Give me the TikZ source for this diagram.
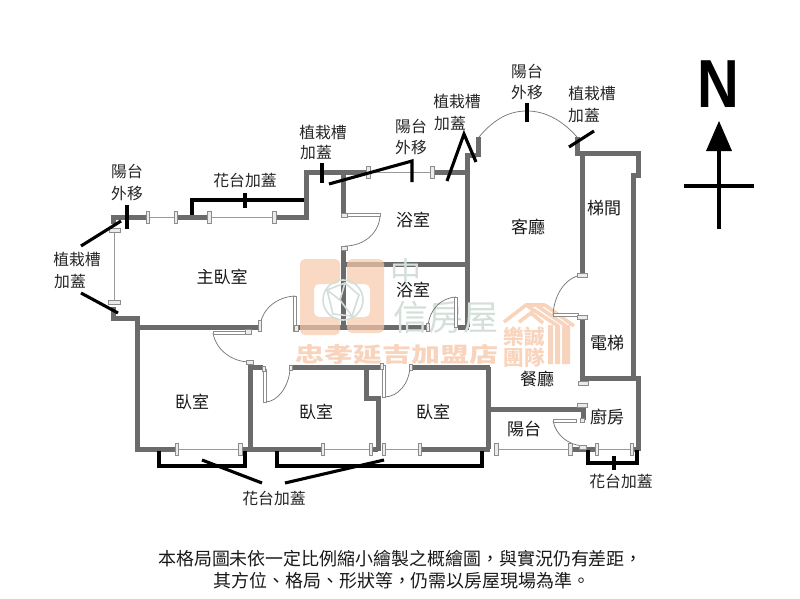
\documentclass[tikz,border=0pt]{standalone}
\usepackage{fontspec}
\setmainfont{Noto Sans CJK TC}
\newfontfamily\latinfont{Liberation Sans}
\definecolor{wallc}{HTML}{6B6B6B}
\definecolor{wmo}{HTML}{F7C9AC}
\definecolor{wmg}{HTML}{D3DFD8}
\tikzset{
 x=1pt,y=-1pt,
 wall/.style={draw=wallc,line width=5pt,line join=miter,line cap=butt},
 blk/.style={draw=black,line width=3.1pt,line cap=butt,line join=miter},
 thinline/.style={draw=black!55,line width=0.7pt},
 windowl/.style={draw=black!40,line width=1pt},
 leaf/.style={draw=black!45,fill=white,line width=0.6pt},
 jamb/.style={draw=black!45,fill=black!8,line width=0.6pt},
 lab/.style={font=\fontsize{15.8pt}{15.8pt}\selectfont,inner sep=0pt,text=black!85},
 room/.style={font=\fontsize{17pt}{17pt}\selectfont,inner sep=0pt,text=black!90},
 captext/.style={font=\fontsize{17.95pt}{17.95pt}\selectfont,inner sep=0pt,text=black!90},
 wmb/.style={fill=wmo,opacity=.7,draw=none},
}
\newcommand{\vj}[2]{\path[jamb] (#1-1.6,#2-6) rectangle (#1+1.6,#2+6);}
\newcommand{\hj}[2]{\path[jamb] (#1-5,#2-2) rectangle (#1+5,#2+2);}
\begin{document}
\begin{tikzpicture}
\useasboundingbox (0,0) rectangle (800,599);
\fill[white] (0,0) rectangle (800,599);
% windows
\path[windowl] (148,217)--(176,217) (209,217)--(273,217) (368,172.5)--(432,172.5)
 (114,230)--(114,302) (177,449)--(240,449) (323,449)--(371,449) (385,449)--(420,449)
 (496,449)--(570,449) (597,449)--(632,449);
% walls
\path[wall] (113,224)--(113,217)--(148,217);
\path[wall] (177,217)--(207,217);
\path[wall] (273,217)--(306,217)--(306,172.5)--(368,172.5);
\path[wall] (432,172.5)--(467,172.5);
\path[wall] (343,172.5)--(343,215);
\path[wall] (467,155)--(467,327);
\path[wall] (465,155)--(476,155)--(476,157);
\path[wall] (478,137)--(478,157);
\path[wall] (577,137)--(577,153.5)--(638.5,153.5)--(638.5,175)--(633,175)--(633,378);
\path[wall] (582,153)--(582,273);
\path[wall] (582,318)--(582,378)--(638,378)--(638,451);
\path[wall] (343,247)--(343,327);
\path[wall] (343,264)--(467,264);
\path[wall] (113,307)--(113,318)--(137,318)--(137,451);
\path[wall] (135,327)--(258,327);
\path[wall] (297,327)--(427,327);
\path[wall] (458,327)--(469,327);
\path[wall] (135,449)--(177,449);
\path[wall] (240,449)--(323,449);
\path[wall] (250,363)--(250,449);
\path[wall] (250,367)--(263,367);
\path[wall] (290,367)--(380,367);
\path[wall] (366,367)--(366,398)--(378,398)--(378,451);
\path[wall] (371,449)--(378,449);
\path[wall] (410,367)--(490,367);
\path[wall] (488,367)--(488,449);
\path[wall] (420,449)--(490,449);
\path[wall] (488,409)--(583,409)--(583,420);
\path[wall] (570,449)--(597,449);
\path[wall] (632,449)--(638,449);
% watermark
\fill[wmb,rounded corners=5pt] (300,259)--(340,259)--(340,284)--(314,284)--(314,317)--(340,317)--(340,335)--(300,335)--cycle;
\fill[wmb,rounded corners=5pt] (347,259)--(384,259)--(384,333)--(347,333)--(347,317)--(370,317)--(370,284)--(347,284)--cycle;
\draw[wmg,line width=1.6pt] (343,300) circle (20);
\draw[wmg,line width=1.6pt] (327,290)--(345,283)--(359,295)--(352,316)--(333,314)--cycle (345,283)--(340,300)--(352,316) (340,300)--(327,290);
\node[wmg,inner sep=0pt,font=\fontsize{31pt}{31pt}\selectfont] (wmzhong) at (406,273) {中};
\node[wmg,inner sep=0pt,font=\fontsize{35pt}{35pt}\selectfont] (wmxin) at (446,317) {信房屋};
\node[wmo!80,inner sep=0pt,xscale=1.38,font=\bfseries\fontsize{21pt}{21pt}\selectfont] (wmshop) at (397,355) {忠孝延吉加盟店};
\node[wmo!80,inner sep=0pt,font=\bfseries\fontsize{20.5pt}{20.5pt}\selectfont] (wmle) at (524,337) {樂誠};
\node[wmo!80,inner sep=0pt,font=\bfseries\fontsize{20.5pt}{20.5pt}\selectfont] (wmtu) at (524,358) {團隊};
\path[draw=wmo!80,line width=3.6pt,line join=miter] (504,322)--(526,305)--(545,305)
 (526,305)--(558,326) (536,305)--(566,326) (545,305)--(574,326)
 (519,322)--(531,313)--(543,323);
\fill[wmo!80] (548,325) rectangle (553,364) (555,325) rectangle (560,364) (562,325) rectangle (570,364);
% doors and thin lines
\path[thinline] (479,137) .. controls (495,118) and (510,111) .. (527,111) .. controls (545,111) and (562,120) .. (577,137);
% master door
\path[thinline] (260,325) .. controls (263,308) and (277,297) .. (295,296);
\path[leaf] (293.5,296) rectangle (296.5,331);
\path[jamb] (258,320) rectangle (261,331);
\path[jamb] (294,325) rectangle (298,331);
% bedroom 1 door
\path[thinline] (213,333) .. controls (216,350) and (232,362) .. (250,362);
\path[leaf] (213,331.5) rectangle (248,334.5);
\path[jamb] (245,329.5) rectangle (251,334);
\path[jamb] (246,360) rectangle (253,364);
% bedroom 2 door
\path[thinline] (265,402) .. controls (278,402) and (289,386) .. (290,369);
\path[leaf] (263.5,369) rectangle (266.5,402);
\path[jamb] (262,366) rectangle (265,371);
\path[jamb] (289,365) rectangle (292,370);
% bedroom 3 door
\path[thinline] (384,397) .. controls (398,397) and (409,384) .. (410,367);
\path[leaf] (382.5,365) rectangle (385.5,397);
\path[jamb] (380,363) rectangle (383,369);
\path[jamb] (409,364) rectangle (412,370);
% bath 1 door
\path[thinline] (380,216) .. controls (379,233) and (364,246) .. (345,246);
\path[leaf] (347,213.5) rectangle (380,216.5);
\path[jamb] (341,213) rectangle (347,217);
\path[jamb] (341,246) rectangle (347,250);
% bath 2 door
\path[thinline] (428,325) .. controls (430,310) and (440,298) .. (456,297);
\path[leaf] (454.5,297) rectangle (457.5,327);
\path[jamb] (426,323) rectangle (429,331);
% living door
\path[thinline] (581,275) .. controls (565,278) and (554,295) .. (553,315);
\path[leaf] (553,313.5) rectangle (578,316.5);
\hj{582}{275} \hj{582}{317}
\hj{583}{383}
\hj{582}{405}
% kitchen door
\path[thinline] (553,421) .. controls (556,435) and (568,445) .. (583,446);
\path[leaf] (553,419.5) rectangle (576,422.5);
\path[jamb] (580,418) rectangle (584,422);
\path[jamb] (579,445) rectangle (586,449);
% jambs
\vj{148}{217} \vj{176}{217}
\path[jamb] (207,211) rectangle (211,223); \path[jamb] (272,211) rectangle (276,223);
\path[jamb] (366,166.5) rectangle (370,178.5); \path[jamb] (430,166.5) rectangle (434,178.5);
\path[jamb] (109,228) rectangle (120,232); \path[jamb] (108,300) rectangle (120,304);
\path[jamb] (175,443) rectangle (178,455); \path[jamb] (238,443) rectangle (242,455);
\vj{323}{449} \vj{371}{449} \vj{384}{449} \vj{420}{449}
\path[jamb] (494,443) rectangle (498,455); \path[jamb] (568,443) rectangle (572,455);
\vj{597}{449} \vj{632}{449}
% black annotations
\path[blk] (127,205)--(127,229);
\path[blk] (121,221)--(81,246);
\path[blk] (81,293)--(118,313);
\path[blk] (192,215)--(192,200)--(304,200);
\path[blk] (245,193)--(245,208);
\path[blk] (322,163)--(322,183);
\path[blk] (329,184)--(412,161)--(412,182);
\path[blk] (447,181)--(464,134)--(476,162);
\path[blk] (527,103)--(527,122);
\path[blk] (569,147)--(594,131);
\path[blk] (159,451)--(159,466)--(245,466)--(245,451);
\path[blk] (202,460)--(262,483);
\path[blk] (277,451)--(277,466)--(482,466)--(482,451);
\path[blk] (285,483)--(384,460);
\path[blk] (588,450)--(588,463)--(637,463)--(637,450);
\path[blk] (614,456)--(614,470);
% north
\node[inner sep=0pt,xscale=.85,font=\latinfont\bfseries\fontsize{68pt}{68pt}\selectfont] (north) at (718,84) {N};
\coordinate (ntip) at (719,121);
\coordinate (nend) at (719,229);
\fill[black] (ntip)--(732,151)--(706,151)--cycle;
\draw[black,line width=3.4pt] (719,150)--(nend);
\draw[black,line width=3.4pt] (684,186)--(754,186);
% labels
\node[lab] (a1) at (127,171) {陽台};
\node[lab] (a2) at (127,193) {外移};
\node[lab] (b) at (245,180) {花台加蓋};
\node[lab] (c1) at (77,259) {植栽槽};
\node[lab] (c2) at (70,282) {加蓋};
\node[lab] (d1) at (323,132) {植栽槽};
\node[lab] (d2) at (316,153) {加蓋};
\node[lab] (e1) at (411,126) {陽台};
\node[lab] (e2) at (411,147) {外移};
\node[lab] (f1) at (457,101) {植栽槽};
\node[lab] (f2) at (450,124) {加蓋};
\node[lab] (g1) at (527,71) {陽台};
\node[lab] (g2) at (527,92) {外移};
\node[lab] (h1) at (592,93) {植栽槽};
\node[lab] (h2) at (584,116) {加蓋};
\node[lab] (i) at (274,498) {花台加蓋};
\node[lab] (j) at (621,481) {花台加蓋};
\node[room] (r1) at (222,277) {主臥室};
\node[room] (r2) at (413,220) {浴室};
\node[room] (r3) at (413,290) {浴室};
\node[room] (r4) at (528,227) {客廳};
\node[room] (r5) at (604,208) {梯間};
\node[room] (r6) at (607,343) {電梯};
\node[room] (r7) at (537,379) {餐廳};
\node[room] (r8) at (607,417) {廚房};
\node[room] (r9) at (524,429) {陽台};
\node[room] (r10) at (192,402) {臥室};
\node[room] (r11) at (316,412) {臥室};
\node[room] (r12) at (433,412) {臥室};
\node[captext] (t1) at (400.5,559) {本格局圖未依一定比例縮小繪製之概繪圖，與實況仍有差距，};
\node[captext] (t2) at (402,581) {其方位、格局、形狀等，仍需以房屋現場為準。};
\end{tikzpicture}
\end{document}
